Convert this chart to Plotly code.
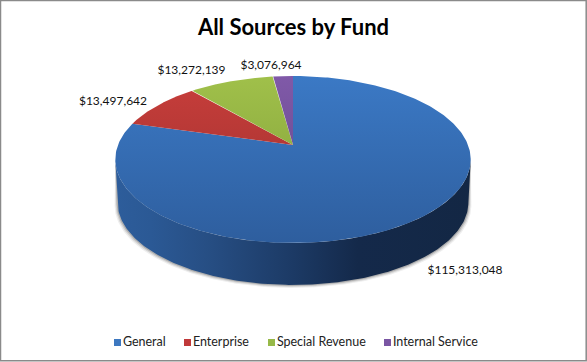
import numpy as np
import plotly.graph_objects as go

categories = ["General", "Enterprise", "Special Revenue", "Internal Service"]
values = [115313048, 13497642, 13272139, 3076964]
top_colors = ["#3b79c5", "#c83e3b", "#a0c04a", "#8059a8"]
bottom_colors = ["#2e5e9e", "#9a2f2d", "#7f9c38", "#5f4585"]
legend_colors = ["#3d78c0", "#c0393a", "#97b948", "#7a56a3"]
label_xy = [(465, 271), (113, 102), (191.5, 71), (271, 66)]
legend_x = [117.5, 187.5, 271.5, 387.5]
legend_y = 342.5

W, H = 587, 362
CX, APEX_Y, R, A, C = 293.0, 145.0, 175.0, -55.8, 0.1737
DEPTH, BOTTOM_SCALE, FACE_CY = 43.0, 0.987, 160.0
FACE_TOP, FACE_BOTTOM = 76.0, 243.0


def project(theta):
    """Clockwise angle from 12 o'clock onto the tilted disc."""
    u, v = np.sin(theta), np.cos(theta)
    w = 1 + C * v
    return CX + R * u / w, (A * v + APEX_Y) / w


total = sum(values)
fractions = [v / total for v in values]

fig = go.Figure()


def wall_points(t0, t1, n=200):
    th = np.linspace(t0, t1, n)
    x, y = project(th)
    xb = CX + BOTTOM_SCALE * (x - CX)
    yb = FACE_CY + BOTTOM_SCALE * (y - FACE_CY) + DEPTH
    return x, y, xb, yb


v_ext = -0.179
t_ext = np.arccos(v_ext)
x, y, xb, yb = wall_points(t_ext, 2 * np.pi - t_ext)

# soft shadow round the wall
for off, alpha in [(3.0, 0.10), (2.0, 0.18), (1.0, 0.30)]:
    fig.add_trace(go.Scatter(
        x=np.r_[x, (CX + (xb - CX) * (1 + off / 176))[::-1]],
        y=np.r_[y, (yb + off)[::-1]],
        mode="lines", fill="toself", line=dict(width=0),
        fillcolor=f"rgba(90,90,90,{alpha})", hoverinfo="skip", showlegend=False))

# side wall
fig.add_trace(go.Scatter(
    x=np.r_[x, xb[::-1]], y=np.r_[y, yb[::-1]],
    mode="lines", fill="toself", line=dict(width=0),
    fillgradient=dict(
        type="horizontal", start=115, stop=472,
        colorscale=[[0, "#2d5d9b"], [0.1, "#2b5995"], [0.25, "#274f85"],
                    [0.5, "#1c3a65"], [0.68, "#14294a"], [1, "#132744"]]),
    hoverinfo="skip", showlegend=False))

# top faces: slices run counter-clockwise from 12 o'clock in reverse order
angle = 0.0
spans = []
for i in range(len(values) - 1, -1, -1):
    span = fractions[i] * 2 * np.pi
    spans.append((i, angle, angle + span))
    angle += span
for i, a0, a1 in sorted(spans, key=lambda s: s[0]):
    th = -np.linspace(a0, a1, 300)
    px, py = project(th)
    fig.add_trace(go.Scatter(
        x=np.r_[CX, px, CX], y=np.r_[APEX_Y, py, APEX_Y],
        mode="lines", fill="toself", line=dict(width=0),
        fillgradient=dict(
            type="vertical", start=FACE_TOP, stop=FACE_BOTTOM,
            colorscale=[[0, top_colors[i]], [1, bottom_colors[i]]]),
        hoverinfo="skip", showlegend=False))

# data labels
fig.add_trace(go.Scatter(
    x=[p[0] for p in label_xy], y=[p[1] for p in label_xy],
    text=[f"${v:,}" for v in values], mode="text",
    textfont=dict(family="Lato", size=12, color="#111111"),
    hoverinfo="skip", showlegend=False))

# legend entries
for name, col, lx in zip(categories, legend_colors, legend_x):
    fig.add_trace(go.Scatter(
        x=[lx], y=[legend_y], mode="markers+text", name=name,
        text=[name], textposition="middle right",
        textfont=dict(family="Lato", size=12.5, color="#222222"),
        marker=dict(symbol="square", size=7, color=col),
        hoverinfo="skip", showlegend=False))

fig.update_layout(
    width=W, height=H, autosize=False,
    margin=dict(l=0, r=0, t=0, b=0),
    paper_bgcolor="white", plot_bgcolor="white",
    title=dict(text="<b>All Sources by Fund</b>", x=0.5, xanchor="center",
               y=0.925, yanchor="middle",
               font=dict(family="Lato", size=22, color="black")),
    xaxis=dict(range=[0, W], visible=False, fixedrange=True),
    yaxis=dict(range=[H, 0], visible=False, fixedrange=True),
    shapes=[dict(type="rect", xref="x", yref="y", x0=0.5, x1=586.2, y0=0.5, y1=360.8,
                 line=dict(color="#8a8a8a", width=1.5), fillcolor="rgba(0,0,0,0)")],
)
fig.write_html("out.html", config=dict(displayModeBar=False),
               post_script="document.body.style.margin='0';document.documentElement.style.overflow='hidden';")
